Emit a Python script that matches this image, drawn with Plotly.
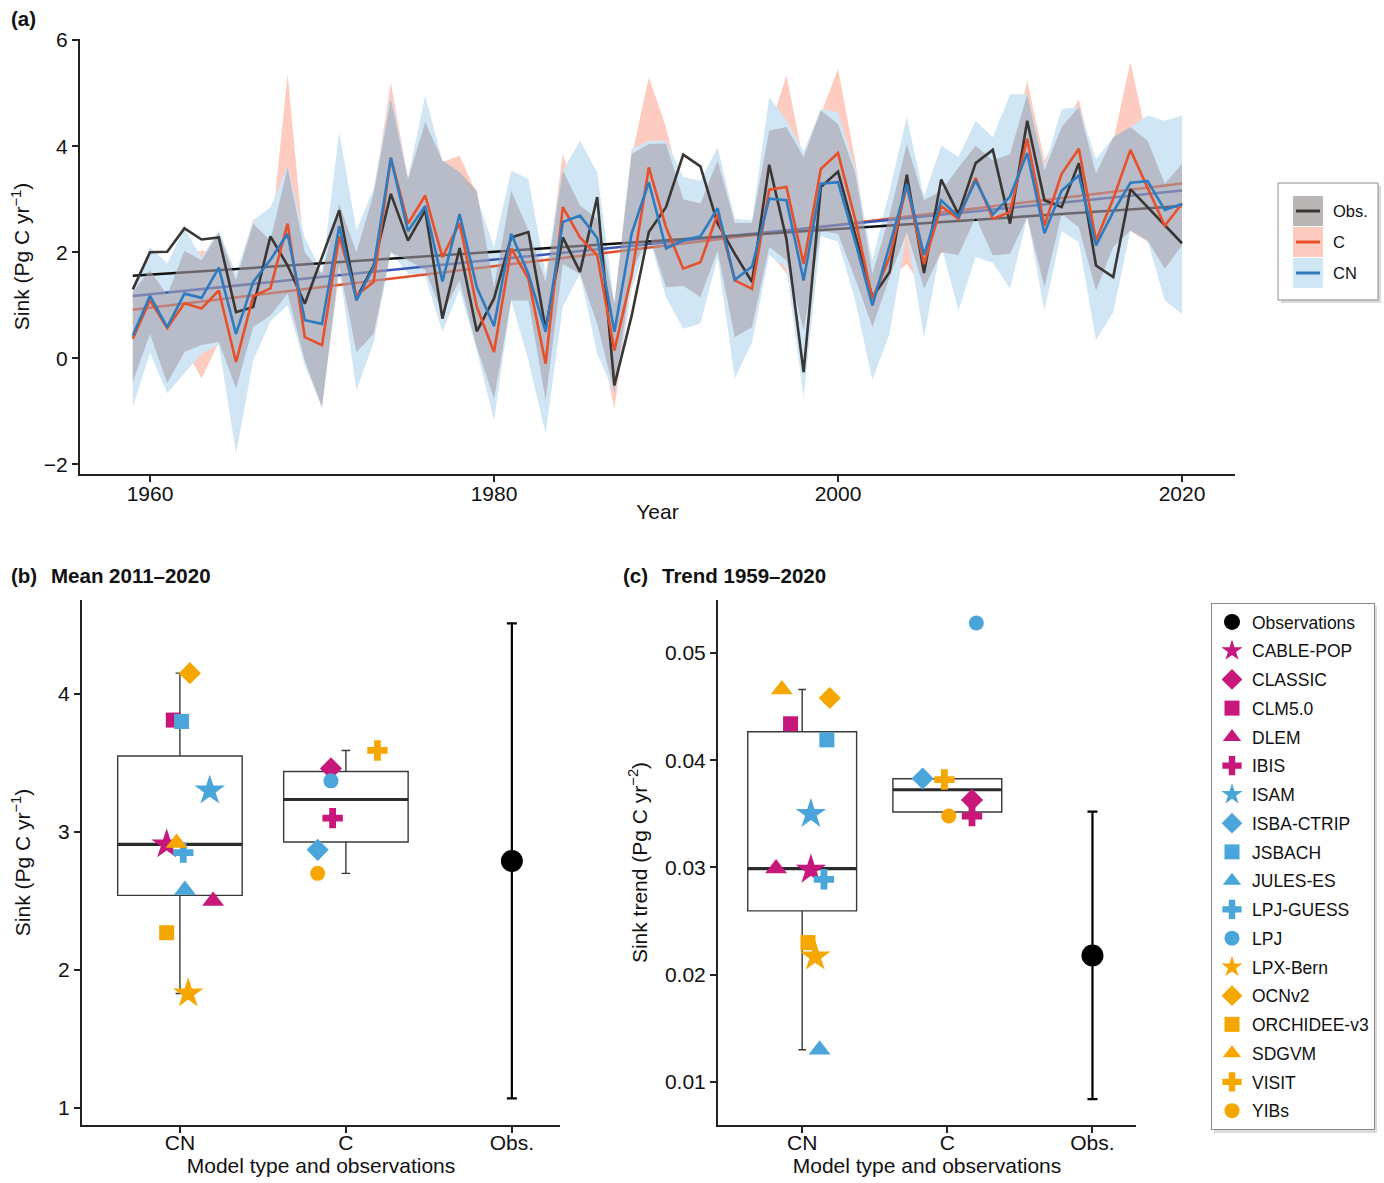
import numpy as np
import plotly.graph_objects as go

# ---------------- data: panel (a) ----------------
years = list(range(1959, 2021))
obs_sink = [1.30, 2.00, 2.01, 2.45, 2.24, 2.28, 0.87, 0.97, 2.30, 1.75,
            1.03, 1.90, 2.79, 1.13, 1.75, 3.10, 2.22, 2.79, 0.75, 2.08,
            0.51, 1.13, 2.28, 2.38, 0.56, 2.28, 1.63, 3.04, -0.51, 0.80,
            2.38, 2.85, 3.84, 3.62, 2.54, 1.97, 1.44, 3.65, 2.25, -0.26,
            3.23, 3.52, 2.35, 1.15, 1.63, 3.46, 1.61, 3.37, 2.72, 3.68,
            3.93, 2.54, 4.48, 2.98, 2.85, 3.68, 1.75, 1.53, 3.19, 2.85,
            2.50, 2.17]
c_sink = [0.37, 1.10, 0.57, 1.04, 0.94, 1.28, -0.07, 1.17, 1.32, 2.54,
          0.40, 0.25, 2.30, 1.19, 1.44, 3.78, 2.54, 3.07, 1.91, 2.55,
          0.97, 0.12, 2.07, 1.50, -0.10, 2.85, 2.28, 1.94, 0.15, 1.56,
          3.60, 2.47, 1.69, 1.81, 2.72, 1.47, 1.31, 3.18, 3.23, 1.78,
          3.57, 3.87, 2.62, 1.12, 1.91, 3.26, 1.78, 2.87, 2.63, 3.40,
          2.63, 2.76, 4.14, 2.50, 3.48, 3.95, 2.22, 3.01, 3.93, 3.23,
          2.50, 2.92]
cn_sink = [0.43, 1.18, 0.59, 1.22, 1.14, 1.71, 0.46, 1.44, 1.86, 2.35,
           0.72, 0.65, 2.49, 1.09, 1.72, 3.78, 2.40, 2.87, 1.45, 2.72,
           1.34, 0.61, 2.35, 1.59, 0.50, 2.57, 2.69, 2.27, 0.50, 2.35,
           3.32, 2.07, 2.22, 2.30, 2.83, 1.48, 1.73, 3.01, 2.98, 1.47,
           3.29, 3.32, 2.20, 1.00, 2.13, 3.28, 1.95, 2.98, 2.67, 3.35,
           2.71, 3.05, 3.87, 2.36, 3.16, 3.45, 2.13, 2.76, 3.31, 3.34,
           2.80, 2.91]
obs_hi = [1.25, 1.66, 1.19, 2.03, 1.85, 2.37, 1.47, 2.54, 2.22, 3.60,
          2.00, 1.59, 2.91, 2.00, 3.10, 4.89, 3.38, 4.45, 3.73, 3.51,
          3.16, 1.34, 3.16, 2.41, 1.44, 3.54, 2.88, 2.63, 1.03, 3.85,
          4.04, 4.05, 3.00, 2.92, 3.73, 2.55, 2.55, 4.29, 4.36, 3.79,
          4.67, 4.42, 3.50, 1.59, 2.70, 4.04, 2.98, 3.16, 3.60, 4.01,
          3.73, 3.85, 4.98, 3.54, 4.36, 4.74, 3.48, 4.17, 4.36, 4.10,
          3.29, 3.67]
obs_lo = [-0.45, 0.46, -0.47, 0.12, 0.25, 0.31, -0.57, 0.59, 0.81, 1.22,
          -0.04, -0.92, 1.75, 0.12, 0.46, 2.00, 1.85, 1.66, 0.85, 1.47,
          0.21, -0.76, 1.09, 1.09, -0.79, 1.78, 1.59, 0.65, -0.66, 1.60,
          2.35, 1.34, 1.37, 1.15, 2.03, 0.40, 0.59, 2.10, 1.85, 0.53,
          2.40, 2.35, 1.50, 0.59, 1.53, 2.38, 1.31, 2.00, 1.95, 2.66,
          1.94, 1.97, 2.66, 1.34, 2.72, 2.47, 1.28, 2.10, 2.41, 2.22,
          1.69, 2.13]
c_hi = [1.20, 1.60, 1.10, 2.00, 2.03, 2.00, 1.30, 2.64, 2.20, 5.36,
        1.90, 1.50, 2.90, 2.00, 3.10, 5.20, 3.38, 4.30, 3.70, 3.82,
        3.10, 1.30, 3.10, 2.40, 1.40, 3.85, 2.90, 2.60, 1.00, 3.80,
        5.30, 4.36, 3.00, 2.90, 3.70, 2.50, 2.50, 4.30, 5.33, 3.70,
        4.60, 5.46, 3.73, 1.60, 2.70, 4.00, 2.90, 3.10, 3.60, 4.00,
        3.70, 3.80, 5.24, 3.73, 4.30, 4.89, 3.50, 4.10, 5.58, 4.10,
        3.30, 3.60]
c_lo = [-0.50, 0.15, -0.40, 0.20, -0.38, 0.30, -0.60, 0.28, 0.85, 1.06,
        -0.10, -0.80, 1.60, 0.10, 0.50, 2.05, 1.80, 1.70, 0.90, 1.40,
        0.30, -0.70, 1.10, 1.00, -0.80, 1.80, 1.60, 0.60, -0.95, 1.40,
        2.30, 1.40, 1.40, 1.20, 2.00, 0.40, 0.60, 2.00, 1.60, 0.60,
        2.40, 2.30, 1.50, 0.60, 1.50, 1.78, 1.30, 2.00, 1.90, 2.60,
        1.90, 2.00, 2.70, 1.30, 2.70, 2.50, 1.30, 2.10, 2.40, 2.20,
        1.70, 2.10]
cn_hi = [1.30, 2.10, 1.79, 2.44, 1.90, 2.41, 1.60, 2.60, 2.85, 3.63,
         2.28, 1.62, 4.26, 2.41, 3.20, 4.95, 3.40, 4.95, 3.73, 3.51,
         3.04, 2.10, 3.54, 3.38, 1.60, 3.54, 4.10, 3.51, 1.03, 3.95,
         4.10, 4.10, 3.42, 3.35, 3.98, 2.63, 2.60, 4.92, 4.50, 3.90,
         4.70, 4.64, 3.60, 1.85, 3.16, 4.55, 3.05, 4.01, 3.80, 4.48,
         4.17, 4.98, 4.98, 3.60, 4.70, 4.74, 3.76, 4.17, 4.36, 4.58,
         4.48, 4.58]
cn_lo = [-0.92, 0.10, -0.66, -0.28, 0.09, 0.25, -1.79, -0.04, 0.70, 1.00,
         -0.14, -0.92, 1.70, -0.60, 0.30, 2.00, 1.60, 1.55, 0.50, 1.30,
         0.15, -1.17, 1.09, -0.04, -1.42, 0.97, 1.60, 0.09, -0.66, 1.30,
         2.30, 1.15, 0.56, 0.65, 1.90, -0.38, 0.30, 1.95, 1.70, -0.73,
         2.30, 2.20, 1.09, -0.41, 0.47, 2.38, 0.40, 2.13, 0.90, 1.91,
         1.80, 1.31, 2.66, 0.90, 2.40, 2.19, 0.34, 0.87, 2.41, 2.22,
         1.09, 0.84]

# ---------------- data: panels (b) and (c) ----------------
models = ["CABLE-POP", "CLASSIC", "CLM5.0", "DLEM", "IBIS", "ISAM", "ISBA-CTRIP",
          "JSBACH", "JULES-ES", "LPJ-GUESS", "LPJ", "LPX-Bern", "OCNv2",
          "ORCHIDEE-v3", "SDGVM", "VISIT", "YIBs"]
model_type = ["CN", "C", "CN", "CN", "C", "CN", "C", "CN", "CN", "CN", "C",
              "CN", "CN", "CN", "CN", "C", "C"]
mean_2011_2020 = [2.91, 3.46, 3.81, 2.50, 3.10, 3.30, 2.87, 3.80, 2.58, 2.85,
                  3.37, 1.83, 4.15, 2.27, 2.92, 3.59, 2.70]
trend_1959_2020 = [0.0298, 0.0363, 0.0434, 0.0299, 0.0348, 0.0350, 0.0383,
                   0.0419, 0.0130, 0.0289, 0.0528, 0.0217, 0.0458, 0.0230,
                   0.0466, 0.0382, 0.0348]
obs_mean = 2.79
obs_mean_range = [1.07, 4.51]
obs_trend = 0.0218
obs_trend_range = [0.0084, 0.0352]
category_labels = ["CN", "C", "Obs."]

# presentation (horizontal jitter of points, in category units)
jitter_b = [-0.08, -0.09, -0.04, 0.20, -0.08, 0.18, -0.17, 0.01, 0.03, 0.02,
            -0.09, 0.05, 0.06, -0.08, -0.02, 0.19, -0.17]
jitter_c = [0.06, 0.17, -0.08, -0.18, 0.17, 0.06, -0.17, 0.17, 0.12, 0.15,
            0.20, 0.09, 0.19, 0.04, -0.14, -0.02, 0.01]

MAG, BLU, ORA = "#C8177A", "#4AA6DA", "#F5A700"
model_color = [MAG, MAG, MAG, MAG, MAG, BLU, BLU, BLU, BLU, BLU, BLU,
               ORA, ORA, ORA, ORA, ORA, ORA]
model_symbol = ["star", "diamond", "square", "triangle-up", "cross",
                "star", "diamond", "square", "triangle-up", "cross", "circle",
                "star", "diamond", "square", "triangle-up", "cross", "circle"]
symbol_size = {"star": 23, "diamond": 17, "square": 15, "triangle-up": 19,
               "cross": 17, "circle": 15}

W, H = 1384, 1183
FONT = "Arial, Liberation Sans, sans-serif"


def fx(p):
    return p / W


def fy(p):
    return 1 - p / H


fig = go.Figure()

# ---------------- panel (a) ----------------
yr = np.array(years, dtype=float)


def band(hi, lo, color):
    return go.Scatter(x=list(yr) + list(yr[::-1]), y=list(hi) + list(lo[::-1]),
                      fill="toself", fillcolor=color, mode="lines",
                      line=dict(width=0), hoverinfo="skip", showlegend=False,
                      xaxis="x", yaxis="y")


fig.add_trace(band(c_hi, c_lo, "#FDCBC0"))
fig.add_trace(band(cn_hi, cn_lo, "#D0E6F4"))

for series, col in [(c_sink, "#E4502B"), (cn_sink, "#3A58B8"), (obs_sink, "#111111")]:
    coef = np.polyfit(yr, np.array(series), 1)
    xs = np.array([yr[0], yr[-1]])
    fig.add_trace(go.Scatter(x=xs, y=np.polyval(coef, xs), mode="lines",
                             line=dict(color=col, width=2.5), showlegend=False,
                             hoverinfo="skip", xaxis="x", yaxis="y"))

fig.add_trace(band(obs_hi, obs_lo, "rgba(166,160,170,0.6)"))

for series, col in [(obs_sink, "#3A3634"), (c_sink, "#E8502A"), (cn_sink, "#2F7BC0")]:
    fig.add_trace(go.Scatter(x=years, y=series, mode="lines",
                             line=dict(color=col, width=2.6), showlegend=False,
                             xaxis="x", yaxis="y"))

# ---------------- panels (b) and (c) ----------------
def box_stats(vals):
    v = np.array(vals)
    q1, med, q3 = np.percentile(v, [25, 50, 75])
    iqr = q3 - q1
    lo = v[v >= q1 - 1.5 * iqr].min()
    hi = v[v <= q3 + 1.5 * iqr].max()
    return q1, med, q3, lo, hi


BOXW = 0.75
for values, xa, ya in [(mean_2011_2020, "x2", "y2"), (trend_1959_2020, "x3", "y3")]:
    for pos, kind in [(1, "CN"), (2, "C")]:
        vals = [v for v, t in zip(values, model_type) if t == kind]
        q1, med, q3, lo, hi = box_stats(vals)
        fig.add_trace(go.Box(x=[pos], q1=[q1], median=[med], q3=[q3],
                             lowerfence=[lo], upperfence=[hi], width=BOXW,
                             whiskerwidth=0.07, boxpoints=False,
                             fillcolor="rgba(255,255,255,0)",
                             line=dict(color="#3a3a3a", width=1.4),
                             showlegend=False, hoverinfo="skip",
                             xaxis=xa, yaxis=ya))
        fig.add_trace(go.Scatter(x=[pos - BOXW / 2, pos + BOXW / 2], y=[med, med],
                                 mode="lines", line=dict(color="#2b2b2b", width=3.2),
                                 showlegend=False, hoverinfo="skip",
                                 xaxis=xa, yaxis=ya))

# observations
for val, rng, xa, ya, leg in [(obs_mean, obs_mean_range, "x2", "y2", True),
                              (obs_trend, obs_trend_range, "x3", "y3", False)]:
    fig.add_trace(go.Scatter(x=[3], y=[val], mode="markers",
                             marker=dict(color="black", size=22, symbol="circle"),
                             error_y=dict(type="data", symmetric=False,
                                          array=[rng[1] - val], arrayminus=[val - rng[0]],
                                          color="black", thickness=2.2, width=5),
                             name="Observations", legendgroup="Observations",
                             showlegend=leg, xaxis=xa, yaxis=ya))

for i, m in enumerate(models):
    pos = 1 if model_type[i] == "CN" else 2
    sym = model_symbol[i]
    mk = dict(color=model_color[i], size=symbol_size[sym], symbol=sym,
              line=dict(width=0))
    fig.add_trace(go.Scatter(x=[pos + jitter_b[i]], y=[mean_2011_2020[i]],
                             mode="markers", marker=mk, name=m, legendgroup=m,
                             showlegend=True, xaxis="x2", yaxis="y2"))
    fig.add_trace(go.Scatter(x=[pos + jitter_c[i]], y=[trend_1959_2020[i]],
                             mode="markers", marker=mk, name=m, legendgroup=m,
                             showlegend=False, xaxis="x3", yaxis="y3"))

# ---------------- layout ----------------
axis_common = dict(showline=True, linecolor="#222222", linewidth=2, ticks="outside",
                   ticklen=6, tickwidth=1.8, tickcolor="#222222", showgrid=False,
                   zeroline=False, mirror=False, automargin=False,
                   tickfont=dict(family=FONT, size=21, color="#111"),
                   title_font=dict(family=FONT, size=21, color="#111"))

fig.update_layout(
    width=W, height=H, autosize=False,
    margin=dict(l=0, r=0, t=0, b=0, pad=0),
    paper_bgcolor="white", plot_bgcolor="white",
    font=dict(family=FONT, color="#111"),
    boxmode="overlay",
    xaxis=dict(domain=[fx(80), fx(1235)], range=[1955.93, 2023.08],
               tickvals=[1960, 1980, 2000, 2020], ticklabelstandoff=-6,
               title=dict(text="Year", standoff=0), anchor="y", **axis_common),
    yaxis=dict(domain=[fy(474), fy(39)], range=[-2.18, 6.02],
               tickvals=[-2, 0, 2, 4, 6],
               title=dict(text="Sink (Pg C yr<sup>−1</sup>)", standoff=8),
               anchor="x", **axis_common),
    xaxis2=dict(domain=[fx(82), fx(560)], range=[0.41, 3.29],
                tickvals=[1, 2, 3], ticktext=category_labels, ticklabelstandoff=-8,
                title=dict(text="Model type and observations", standoff=0),
                anchor="y2", **axis_common),
    yaxis2=dict(domain=[fy(1125), fy(600)], range=[0.877, 4.68],
                tickvals=[1, 2, 3, 4],
                title=dict(text="Sink (Pg C yr<sup>−1</sup>)", standoff=22),
                anchor="x2", **axis_common),
    xaxis3=dict(domain=[fx(718), fx(1136)], range=[0.42, 3.30],
                tickvals=[1, 2, 3], ticktext=category_labels, ticklabelstandoff=-8,
                title=dict(text="Model type and observations", standoff=0),
                anchor="y3", **axis_common),
    yaxis3=dict(domain=[fy(1125), fy(600)], range=[0.00599, 0.05494],
                tickvals=[0.01, 0.02, 0.03, 0.04, 0.05], tickformat=".2f",
                title=dict(text="Sink trend (Pg C yr<sup>−2</sup>)", standoff=12),
                anchor="x3", **axis_common),
    legend=dict(x=fx(1211), y=fy(603), xanchor="left", yanchor="top",
                bgcolor="white", bordercolor="#8a8a8a", borderwidth=1,
                font=dict(family=FONT, size=17.5, color="#111"),
                tracegroupgap=3, itemsizing="trace"),
)

# panel labels
ann = [
    dict(text="<b>(a)</b>", x=fx(9), y=fy(18)),
    dict(text="<b>(b)</b>", x=fx(9), y=fy(575)),
    dict(text="<b>Mean 2011–2020</b>", x=fx(49), y=fy(575)),
    dict(text="<b>(c)</b>", x=fx(621), y=fy(575)),
    dict(text="<b>Trend 1959–2020</b>", x=fx(660), y=fy(575)),
]
for a in ann:
    fig.add_annotation(xref="paper", yref="paper", xanchor="left", yanchor="middle",
                       showarrow=False, font=dict(family=FONT, size=20.5, color="#111"), **a)

# panel (a) legend drawn as shapes + text; soft drop shadows under both legends
shapes = [
    dict(type="rect", x0=fx(1214), x1=fx(1377), y0=fy(1133), y1=fy(606),
         fillcolor="#dadada", line=dict(width=0)),
    dict(type="rect", x0=fx(1281), x1=fx(1381), y0=fy(303), y1=fy(186),
         fillcolor="#dadada", line=dict(width=0)),
    dict(type="rect", x0=fx(1278), x1=fx(1378), y0=fy(300), y1=fy(183),
         fillcolor="white", line=dict(color="#8a8a8a", width=1)),
    dict(type="rect", x0=fx(1293), x1=fx(1323), y0=fy(226), y1=fy(196),
         fillcolor="#BAB6B6", line=dict(width=0)),
    dict(type="rect", x0=fx(1293), x1=fx(1323), y0=fy(257), y1=fy(227),
         fillcolor="#FDCBC0", line=dict(width=0)),
    dict(type="rect", x0=fx(1293), x1=fx(1323), y0=fy(288), y1=fy(258),
         fillcolor="#CFE6F4", line=dict(width=0)),
    dict(type="line", x0=fx(1296), x1=fx(1320), y0=fy(211), y1=fy(211),
         line=dict(color="#3A3634", width=3)),
    dict(type="line", x0=fx(1296), x1=fx(1320), y0=fy(242), y1=fy(242),
         line=dict(color="#E8502A", width=3)),
    dict(type="line", x0=fx(1296), x1=fx(1320), y0=fy(273), y1=fy(273),
         line=dict(color="#2F7BC0", width=3)),
]
for s in shapes:
    fig.add_shape(xref="paper", yref="paper", layer="above", **s)
for txt, yy in [("Obs.", 211), ("C", 242), ("CN", 273)]:
    fig.add_annotation(text=txt, xref="paper", yref="paper", x=fx(1331), y=fy(yy),
                       xanchor="left", yanchor="middle", showarrow=False,
                       font=dict(family=FONT, size=16.5, color="#111"))

fig.write_html("out.html", config={"displayModeBar": False},
               post_script="document.body.style.margin='0';"
                           "document.body.style.overflow='hidden';")
